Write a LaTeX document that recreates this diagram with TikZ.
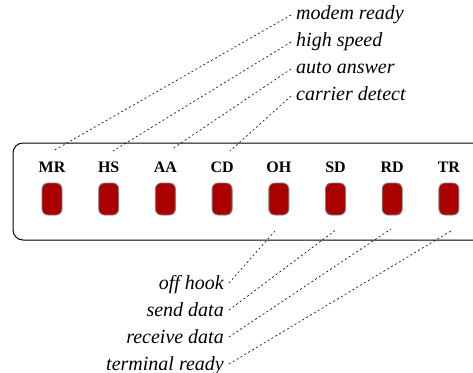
\documentclass[tikz,border=0pt]{standalone}
\usepackage{fontspec}
\setmainfont{Liberation Serif}
\definecolor{ledred}{RGB}{170,0,0}
\begin{document}
\begin{tikzpicture}[x=1pt,y=-1pt,
  led/.style={draw=black!50, fill=ledred, line width=0.9pt, rounded corners=6pt,
    minimum width=20pt, minimum height=32pt, inner sep=0pt},
  tag/.style={font=\bfseries\fontsize{16}{16}\selectfont, inner sep=0pt},
  desc/.style={font=\itshape\fontsize{20}{20}\selectfont, inner sep=0pt},
  lead/.style={line width=0.6pt, dash pattern=on 2pt off 2.5pt},
  panel/.style={line width=1pt, rounded corners=10pt}]
\useasboundingbox (0,0) rectangle (473,372);
\draw[panel] (13,143) rectangle (500,240);
\foreach \n/\lab [count=\i from 0] in {mr/MR,hs/HS,aa/AA,cd/CD,oh/OH,sd/SD,rd/RD,tr/TR}{
  \pgfmathsetmacro{\xx}{52+56.7*\i}
  \node[tag] (t\n) at (\xx,167) {\lab};
  \node[led] (l\n) at (\xx,199) {};
}
% top descriptions
\node[desc, anchor=base west] (dmr) at (296,19) {modem ready};
\node[desc, anchor=base west] (dhs) at (296,46) {high speed};
\node[desc, anchor=base west] (daa) at (296,73) {auto answer};
\node[desc, anchor=base west] (dcd) at (296,100) {carrier detect};
% bottom descriptions
\node[desc, anchor=base east] (doh) at (224,289) {off hook};
\node[desc, anchor=base east] (dsd) at (224,316) {send data};
\node[desc, anchor=base east] (drd) at (224,343) {receive data};
\node[desc, anchor=base east] (dtr) at (224,370) {terminal ready};
% leader ends
\coordinate (emr) at (53,151);
\coordinate (ehs) at (113,151);
\coordinate (eaa) at (172,149);
\coordinate (ecd) at (230,151);
\coordinate (eoh) at (275,231);
\coordinate (esd) at (337,229);
\coordinate (erd) at (391,229);
\coordinate (etr) at (451,231);
\foreach \n in {mr,hs,aa,cd}{
  \draw[lead] ([xshift=-5pt,yshift=4pt]d\n.base west) -- (e\n);
}
\foreach \n in {oh,sd,rd,tr}{
  \draw[lead] ([xshift=5pt,yshift=6pt]d\n.base east) -- (e\n);
}
\end{tikzpicture}
\end{document}
